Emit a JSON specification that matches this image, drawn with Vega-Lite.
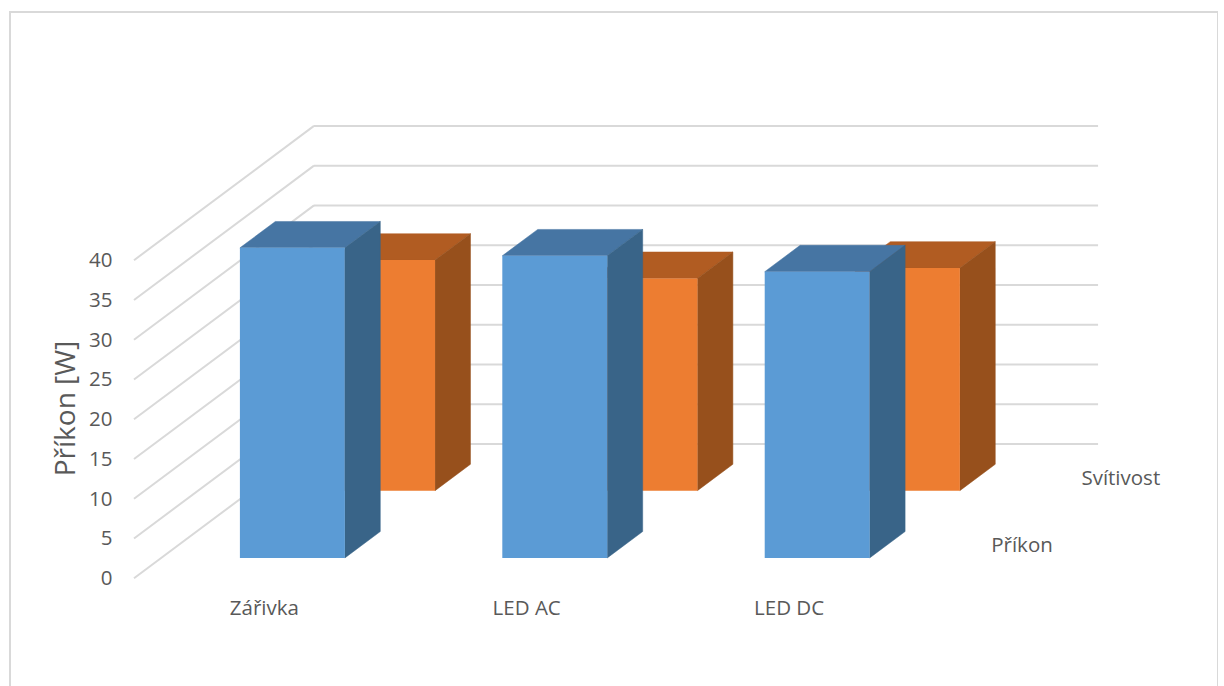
{
  "$schema": "https://vega.github.io/schema/vega-lite/v6.json",
  "width": 1208,
  "height": 680,
  "padding": {"left": 10, "top": 12, "right": 0, "bottom": 0},
  "autosize": "none",
  "background": "white",
  "view": {"stroke": "#d9d9d9", "strokeWidth": 2, "fill": "white"},
  "config": {"text": {"font": "Open Sans", "fontSize": 20.5, "fill": "#595959"}},
  "datasets": {
    "mereni": [
      {"kategorie": "Zářivka", "rada": "Příkon", "hodnota": 39},
      {"kategorie": "LED AC", "rada": "Příkon", "hodnota": 38},
      {"kategorie": "LED DC", "rada": "Příkon", "hodnota": 36},
      {"kategorie": "Zářivka", "rada": "Svítivost", "hodnota": 29},
      {"kategorie": "LED AC", "rada": "Svítivost", "hodnota": 26.7},
      {"kategorie": "LED DC", "rada": "Svítivost", "hodnota": 28}
    ],
    "mrizka": [
      {"hodnota": 0}, {"hodnota": 5}, {"hodnota": 10}, {"hodnota": 15}, {"hodnota": 20},
      {"hodnota": 25}, {"hodnota": 30}, {"hodnota": 35}, {"hodnota": 40}
    ],
    "kategorie": [
      {"kategorie": "Zářivka"}, {"kategorie": "LED AC"}, {"kategorie": "LED DC"}
    ],
    "rady": [
      {"rada": "Příkon"}, {"rada": "Svítivost"}
    ]
  },
  "encoding": {
    "x": {
      "field": "xa",
      "type": "quantitative",
      "scale": {"domain": [-0.47256, 4.13105], "nice": false, "zero": false},
      "axis": null
    },
    "y": {
      "field": "ya",
      "type": "quantitative",
      "scale": {"domain": [-14.314, 71.219], "nice": false, "zero": false},
      "axis": {
        "title": "Příkon [W]",
        "values": [0, 5, 10, 15, 20, 25, 30, 35, 40],
        "offset": -104,
        "grid": false,
        "domain": false,
        "ticks": false,
        "labelPadding": 2,
        "labelOffset": 0.5,
        "labelFont": "Open Sans",
        "labelFontSize": 20.5,
        "labelColor": "#595959",
        "titleFont": "Open Sans",
        "titleFontSize": 28,
        "titleFontWeight": "normal",
        "titleColor": "#595959",
        "titleX": -34,
        "titleY": 396
      }
    }
  },
  "layer": [
    {
      "description": "Left wall of the grid, running from the front edge to the back corner",
      "data": {"name": "mrizka"},
      "transform": [
        {"calculate": "0", "as": "xa"},
        {"calculate": "datum.hodnota", "as": "ya"},
        {"calculate": "0.686", "as": "xb"},
        {"calculate": "datum.hodnota + 16.89", "as": "yb"}
      ],
      "mark": {"type": "rule", "stroke": "#d9d9d9", "strokeWidth": 2},
      "encoding": {
        "x2": {"field": "xb"},
        "y2": {"field": "yb"}
      }
    },
    {
      "description": "Back wall of the grid",
      "data": {"name": "mrizka"},
      "transform": [
        {"calculate": "0.686", "as": "xa"},
        {"calculate": "datum.hodnota + 16.89", "as": "ya"},
        {"calculate": "3.674", "as": "xb"}
      ],
      "mark": {"type": "rule", "stroke": "#d9d9d9", "strokeWidth": 2},
      "encoding": {
        "x2": {"field": "xb"}
      }
    },
    {
      "description": "Boxes in oblique projection; the rear series is painted first",
      "data": {"name": "mereni"},
      "transform": [
        {"calculate": "indexof(['Zářivka','LED AC','LED DC'], datum.kategorie)", "as": "i"},
        {"calculate": "datum.rada === 'Příkon' ? 0.151 : 0.652", "as": "d"},
        {"calculate": "datum.i + 0.3 + 0.686 * datum.d", "as": "x0"},
        {"calculate": "datum.x0 + 0.4", "as": "x1"},
        {"calculate": "16.89 * datum.d", "as": "spodek"},
        {"calculate": "datum.spodek + datum.hodnota", "as": "vrch"}
      ],
      "layer": [
        {
          "transform": [
            {"filter": "datum.rada === 'Svítivost'"},
            {"calculate": "[0, 1, 2, 3]", "as": "t"},
            {"flatten": ["t"]},
            {"calculate": "[datum.x0, datum.x0 + 0.135, datum.x1, datum.x1 + 0.135][datum.t]", "as": "xa"},
            {"calculate": "datum.t === 0 ? datum.vrch : datum.vrch + 3.32", "as": "ya"},
            {"calculate": "datum.t === 3 ? datum.vrch + 3.32 : datum.vrch", "as": "yb"}
          ],
          "mark": {"type": "area", "orient": "vertical", "fill": "#b15c22", "stroke": "#b15c22", "strokeWidth": 0.5},
          "encoding": {"y2": {"field": "yb"}, "detail": {"field": "kategorie"}}
        },
        {
          "transform": [
            {"filter": "datum.rada === 'Svítivost'"},
            {"calculate": "[0, 1]", "as": "t"},
            {"flatten": ["t"]},
            {"calculate": "datum.x1 + 0.135 * datum.t", "as": "xa"},
            {"calculate": "datum.vrch + 3.32 * datum.t", "as": "ya"},
            {"calculate": "datum.spodek + 3.32 * datum.t", "as": "yb"}
          ],
          "mark": {"type": "area", "orient": "vertical", "fill": "#97501c", "stroke": "#97501c", "strokeWidth": 0.5},
          "encoding": {"y2": {"field": "yb"}, "detail": {"field": "kategorie"}}
        },
        {
          "transform": [
            {"filter": "datum.rada === 'Svítivost'"},
            {"calculate": "datum.x0", "as": "xa"},
            {"calculate": "datum.vrch", "as": "ya"}
          ],
          "mark": {"type": "rect", "fill": "#ed7d31"},
          "encoding": {"x2": {"field": "x1"}, "y2": {"field": "spodek"}}
        },
        {
          "transform": [
            {"filter": "datum.rada === 'Příkon'"},
            {"calculate": "[0, 1, 2, 3]", "as": "t"},
            {"flatten": ["t"]},
            {"calculate": "[datum.x0, datum.x0 + 0.135, datum.x1, datum.x1 + 0.135][datum.t]", "as": "xa"},
            {"calculate": "datum.t === 0 ? datum.vrch : datum.vrch + 3.32", "as": "ya"},
            {"calculate": "datum.t === 3 ? datum.vrch + 3.32 : datum.vrch", "as": "yb"}
          ],
          "mark": {"type": "area", "orient": "vertical", "fill": "#4675a3", "stroke": "#4675a3", "strokeWidth": 0.5},
          "encoding": {"y2": {"field": "yb"}, "detail": {"field": "kategorie"}}
        },
        {
          "transform": [
            {"filter": "datum.rada === 'Příkon'"},
            {"calculate": "[0, 1]", "as": "t"},
            {"flatten": ["t"]},
            {"calculate": "datum.x1 + 0.135 * datum.t", "as": "xa"},
            {"calculate": "datum.vrch + 3.32 * datum.t", "as": "ya"},
            {"calculate": "datum.spodek + 3.32 * datum.t", "as": "yb"}
          ],
          "mark": {"type": "area", "orient": "vertical", "fill": "#396488", "stroke": "#396488", "strokeWidth": 0.5},
          "encoding": {"y2": {"field": "yb"}, "detail": {"field": "kategorie"}}
        },
        {
          "transform": [
            {"filter": "datum.rada === 'Příkon'"},
            {"calculate": "datum.x0", "as": "xa"},
            {"calculate": "datum.vrch", "as": "ya"}
          ],
          "mark": {"type": "rect", "fill": "#5b9bd5"},
          "encoding": {"x2": {"field": "x1"}, "y2": {"field": "spodek"}}
        }
      ]
    },
    {
      "description": "Category names along the front edge",
      "data": {"name": "kategorie"},
      "transform": [
        {"calculate": "indexof(['Zářivka','LED AC','LED DC'], datum.kategorie) + 0.4965", "as": "xa"},
        {"calculate": "-3.9", "as": "ya"}
      ],
      "mark": {"type": "text", "align": "center", "baseline": "middle"},
      "encoding": {"text": {"field": "kategorie"}}
    },
    {
      "description": "Series names along the depth axis",
      "data": {"name": "rady"},
      "transform": [
        {"calculate": "datum.rada === 'Příkon' ? 0.249 : 0.75", "as": "d"},
        {"calculate": "3.096 + 0.686 * datum.d", "as": "xa"},
        {"calculate": "16.89 * datum.d - 0.2", "as": "ya"}
      ],
      "mark": {"type": "text", "align": "left", "baseline": "middle"},
      "encoding": {"text": {"field": "rada"}}
    }
  ]
}
